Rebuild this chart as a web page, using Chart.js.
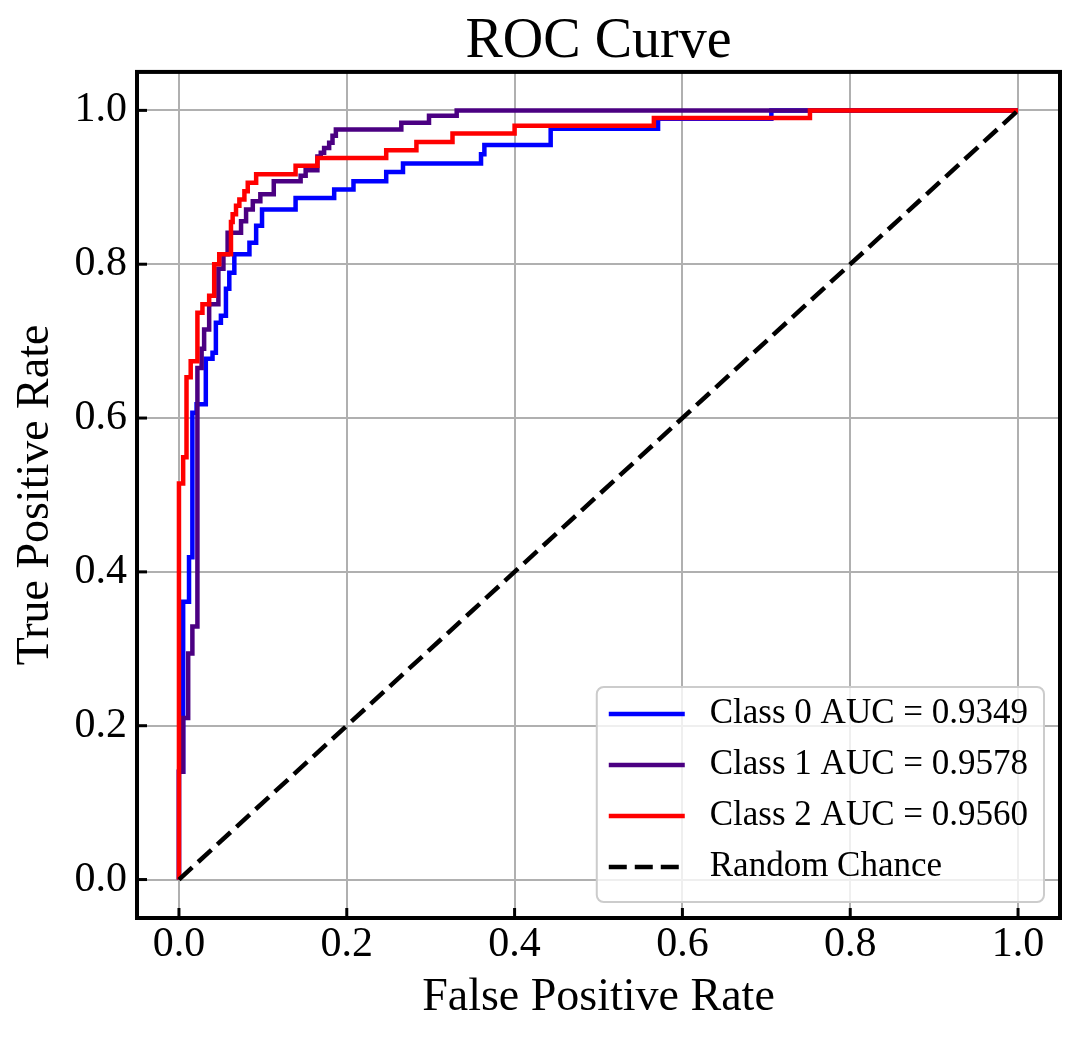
<!DOCTYPE html>
<html>
<head>
<meta charset="utf-8">
<title>ROC Curve</title>
<script src="https://cdn.jsdelivr.net/npm/chart.js@4.4.1/dist/chart.umd.min.js"></script>
<style>
  html, body { margin: 0; padding: 0; background: #fff; }
  #roc { display: block; }
</style>
</head>
<body>
<canvas id="roc" width="1080" height="1042"></canvas>
<script>
// ROC points: top of each vertical step (fpr = x, tpr = y)
const class0Fpr = [0, 0, 0.005, 0.012, 0.016, 0.021, 0.032, 0.040, 0.044, 0.050, 0.056, 0.060, 0.066, 0.084, 0.092, 0.099, 0.139, 0.185, 0.208, 0.247, 0.267, 0.360, 0.364, 0.443, 0.571, 0.706, 1.0];
const class0Tpr = [0, 0.14, 0.361, 0.419, 0.607, 0.618, 0.677, 0.685, 0.724, 0.733, 0.768, 0.789, 0.813, 0.828, 0.850, 0.871, 0.886, 0.897, 0.908, 0.920, 0.931, 0.943, 0.955, 0.976, 0.989, 1.0, 1.0];

const class1Fpr = [0, 0, 0.005, 0.011, 0.016, 0.022, 0.027, 0.030, 0.036, 0.047, 0.053, 0.058, 0.074, 0.080, 0.088, 0.097, 0.113, 0.145, 0.151, 0.165, 0.169, 0.173, 0.179, 0.183, 0.187, 0.265, 0.298, 0.331, 1.0];
const class1Tpr = [0, 0.14, 0.21, 0.294, 0.329, 0.665, 0.69, 0.715, 0.748, 0.794, 0.813, 0.841, 0.856, 0.871, 0.882, 0.891, 0.908, 0.915, 0.922, 0.940, 0.945, 0.951, 0.958, 0.967, 0.975, 0.984, 0.993, 1.0, 1.0];

const class2Fpr = [0, 0, 0.005, 0.009, 0.014, 0.022, 0.028, 0.036, 0.042, 0.048, 0.062, 0.064, 0.068, 0.072, 0.078, 0.082, 0.092, 0.139, 0.165, 0.247, 0.283, 0.326, 0.400, 0.566, 0.752, 1.0];
const class2Tpr = [0, 0.515, 0.549, 0.653, 0.674, 0.737, 0.748, 0.759, 0.800, 0.813, 0.855, 0.865, 0.876, 0.884, 0.895, 0.906, 0.917, 0.928, 0.938, 0.948, 0.959, 0.970, 0.980, 0.990, 1.0, 1.0];

const chanceFpr = [0, 1];
const chanceTpr = [0, 1];

const classNames = ['Class 0', 'Class 1', 'Class 2'];
const aucValues = [0.9349, 0.9578, 0.9560];
const tickValues = [0, 0.2, 0.4, 0.6, 0.8, 1.0];

const classColors = ['#0000ff', '#4b0082', '#ff0000'];
const SERIF = "'Liberation Serif', 'Times New Roman', serif";

Chart.defaults.font.family = SERIF;
Chart.defaults.color = '#000';

const toPoints = (xs, ys) => xs.map((x, i) => ({ x: x, y: ys[i] }));

const rocSets = [[class0Fpr, class0Tpr], [class1Fpr, class1Tpr], [class2Fpr, class2Tpr]];

const datasets = rocSets.map(([fpr, tpr], i) => ({
    label: classNames[i] + ' AUC = ' + aucValues[i].toFixed(4),
    data: toPoints(fpr, tpr),
    borderColor: classColors[i],
    borderWidth: 4.5,
    showLine: true,
    stepped: true,
    pointRadius: 0,
    fill: false,
    order: 3 - i,   // red on top, blue at the bottom
}));

datasets.push({
    label: 'Random Chance',
    data: toPoints(chanceFpr, chanceTpr),
    borderColor: '#000',
    borderWidth: 4.5,
    borderDash: [18, 8],
    showLine: true,
    pointRadius: 0,
    fill: false,
    order: 0,
});

// black frame plus inward ticks on the left and bottom
const frameAndTicks = {
    id: 'frameAndTicks',
    afterDatasetsDraw(chart) {
        const { ctx, chartArea: a, scales: { x, y } } = chart;
        ctx.save();
        ctx.strokeStyle = '#000';
        ctx.lineWidth = 3;
        tickValues.forEach(v => {
            const px = x.getPixelForValue(v);
            ctx.beginPath();
            ctx.moveTo(px, a.bottom);
            ctx.lineTo(px, a.bottom - 10);
            ctx.stroke();
            const py = y.getPixelForValue(v);
            ctx.beginPath();
            ctx.moveTo(a.left, py);
            ctx.lineTo(a.left + 10, py);
            ctx.stroke();
        });
        ctx.lineWidth = 4;
        ctx.strokeRect(a.left, a.top, a.right - a.left, a.bottom - a.top);
        ctx.restore();
    }
};

// matplotlib-style legend box in the lower right of the plot
const boxLegend = {
    id: 'boxLegend',
    afterDraw(chart) {
        const { ctx, chartArea: a } = chart;
        const sets = chart.data.datasets;
        ctx.save();
        ctx.font = '35px ' + SERIF;
        const textW = Math.max(...sets.map(d => ctx.measureText(d.label).width));
        const rowH = 51;
        const w = 12 + 76 + 25 + textW + 16;
        const h = 27 + rowH * (sets.length - 1) + 35;
        const right = a.right - 16;
        const bottom = a.bottom - 16;
        const left = right - w;
        const top = bottom - h;

        ctx.beginPath();
        ctx.roundRect(left, top, w, h, 7);
        ctx.fillStyle = 'rgba(255, 255, 255, 0.8)';
        ctx.fill();
        ctx.strokeStyle = '#cccccc';
        ctx.lineWidth = 2;
        ctx.stroke();

        sets.forEach((d, i) => {
            const cy = top + 27 + i * rowH;
            ctx.beginPath();
            ctx.setLineDash(d.borderDash || []);
            ctx.strokeStyle = d.borderColor;
            ctx.lineWidth = 4.5;
            ctx.moveTo(left + 12, cy);
            ctx.lineTo(left + 88, cy);
            ctx.stroke();
            ctx.setLineDash([]);
            ctx.fillStyle = '#000';
            ctx.textBaseline = 'middle';
            ctx.textAlign = 'left';
            ctx.fillText(d.label, left + 113, cy);
        });
        ctx.restore();
    }
};

const setTicks = scale => { scale.ticks = tickValues.map(v => ({ value: v })); };
const gridOpts = { color: '#b0b0b0', lineWidth: 2, drawTicks: false };

new Chart(document.getElementById('roc'), {
    type: 'scatter',
    data: { datasets: datasets },
    options: {
        responsive: false,
        animation: false,
        devicePixelRatio: 1,
        layout: { padding: { left: 0, right: 20, top: 0, bottom: 0 } },
        plugins: {
            legend: { display: false },
            tooltip: { enabled: false },
            title: {
                display: true,
                fullSize: false,   // centre over the plot area, like matplotlib
                text: 'ROC Curve',
                color: '#000',
                font: { size: 56, weight: 'normal', lineHeight: 1.07 },
                padding: { top: 12, bottom: 0 }
            }
        },
        scales: {
            x: {
                type: 'linear',
                min: -0.05,
                max: 1.05,
                afterBuildTicks: setTicks,
                afterFit: s => { s.height = 124; },
                grid: gridOpts,
                border: { display: false },
                ticks: {
                    padding: 2,
                    font: { size: 42 },
                    color: '#000',
                    maxRotation: 0,
                    autoSkip: false,
                    callback: v => v.toFixed(1)
                },
                title: {
                    display: true,
                    text: 'False Positive Rate',
                    color: '#000',
                    font: { size: 46 },
                    padding: { top: 0, bottom: 16 }
                }
            },
            y: {
                type: 'linear',
                min: -0.05,
                max: 1.05,
                afterBuildTicks: setTicks,
                afterFit: s => { s.width = 137; },
                grid: gridOpts,
                border: { display: false },
                ticks: {
                    padding: 10,
                    font: { size: 42 },
                    color: '#000',
                    autoSkip: false,
                    callback: v => v.toFixed(1)
                },
                title: {
                    display: true,
                    text: 'True Positive Rate',
                    color: '#000',
                    font: { size: 46 },
                    padding: { top: 8, bottom: 0 }
                }
            }
        }
    },
    plugins: [frameAndTicks, boxLegend]
});
</script>
</body>
</html>
